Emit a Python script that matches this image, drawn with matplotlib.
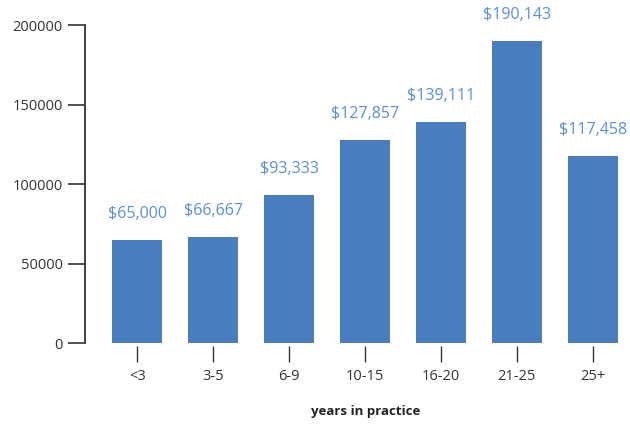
import numpy as np
import matplotlib.pyplot as plt

plt.rcParams['font.family'] = ['Open Sans', 'DejaVu Sans']

# years in practice vs. income
categories = ['<3', '3-5', '6-9', '10-15', '16-20', '21-25', '25+']
income = [65000, 66667, 93333, 127857, 139111, 190143, 117458]
yticks = [0, 50000, 100000, 150000, 200000]

bar_color = '#4a7dbf'
label_color = '#5b8fd6'
axis_color = '#333333'

fig = plt.figure(figsize=(6.3, 4.32), dpi=100)
ax = fig.add_axes([0.135, 0.206, 0.854, 0.736])

x = np.arange(len(categories))
bars = ax.bar(x, income, width=0.66, color=bar_color)

for xi, v in zip(x, income):
    ax.annotate('${:,}'.format(v), (xi, v), xytext=(0, 13), textcoords='offset points',
                ha='center', va='bottom', color=label_color, fontsize=11.5, clip_on=False)

ax.set_xlim(-0.69, 6.4)
ax.set_ylim(0, 200000)
ax.set_xticks(x)
ax.set_xticklabels(categories)
ax.set_yticks(yticks)
ax.set_yticklabels([str(t) for t in yticks])

for s in ['top', 'right']:
    ax.spines[s].set_visible(False)
ax.spines['bottom'].set_visible(False)
ax.spines['bottom'].set_position(('outward', 2))
ax.spines['left'].set_color(axis_color)
ax.spines['left'].set_linewidth(1.3)

ax.tick_params(axis='y', length=12, width=1.2, color=axis_color, labelsize=10.5,
               labelcolor=axis_color, pad=4)
ax.tick_params(axis='x', length=11.5, width=1.0, color=axis_color, labelsize=10.5,
               labelcolor=axis_color, pad=5)

ax.set_xlabel('years in practice', fontsize=9.5, fontweight='bold', color='#222222')
ax.xaxis.set_label_coords(0.522, -0.195)

fig.savefig('out.png', dpi=100)
